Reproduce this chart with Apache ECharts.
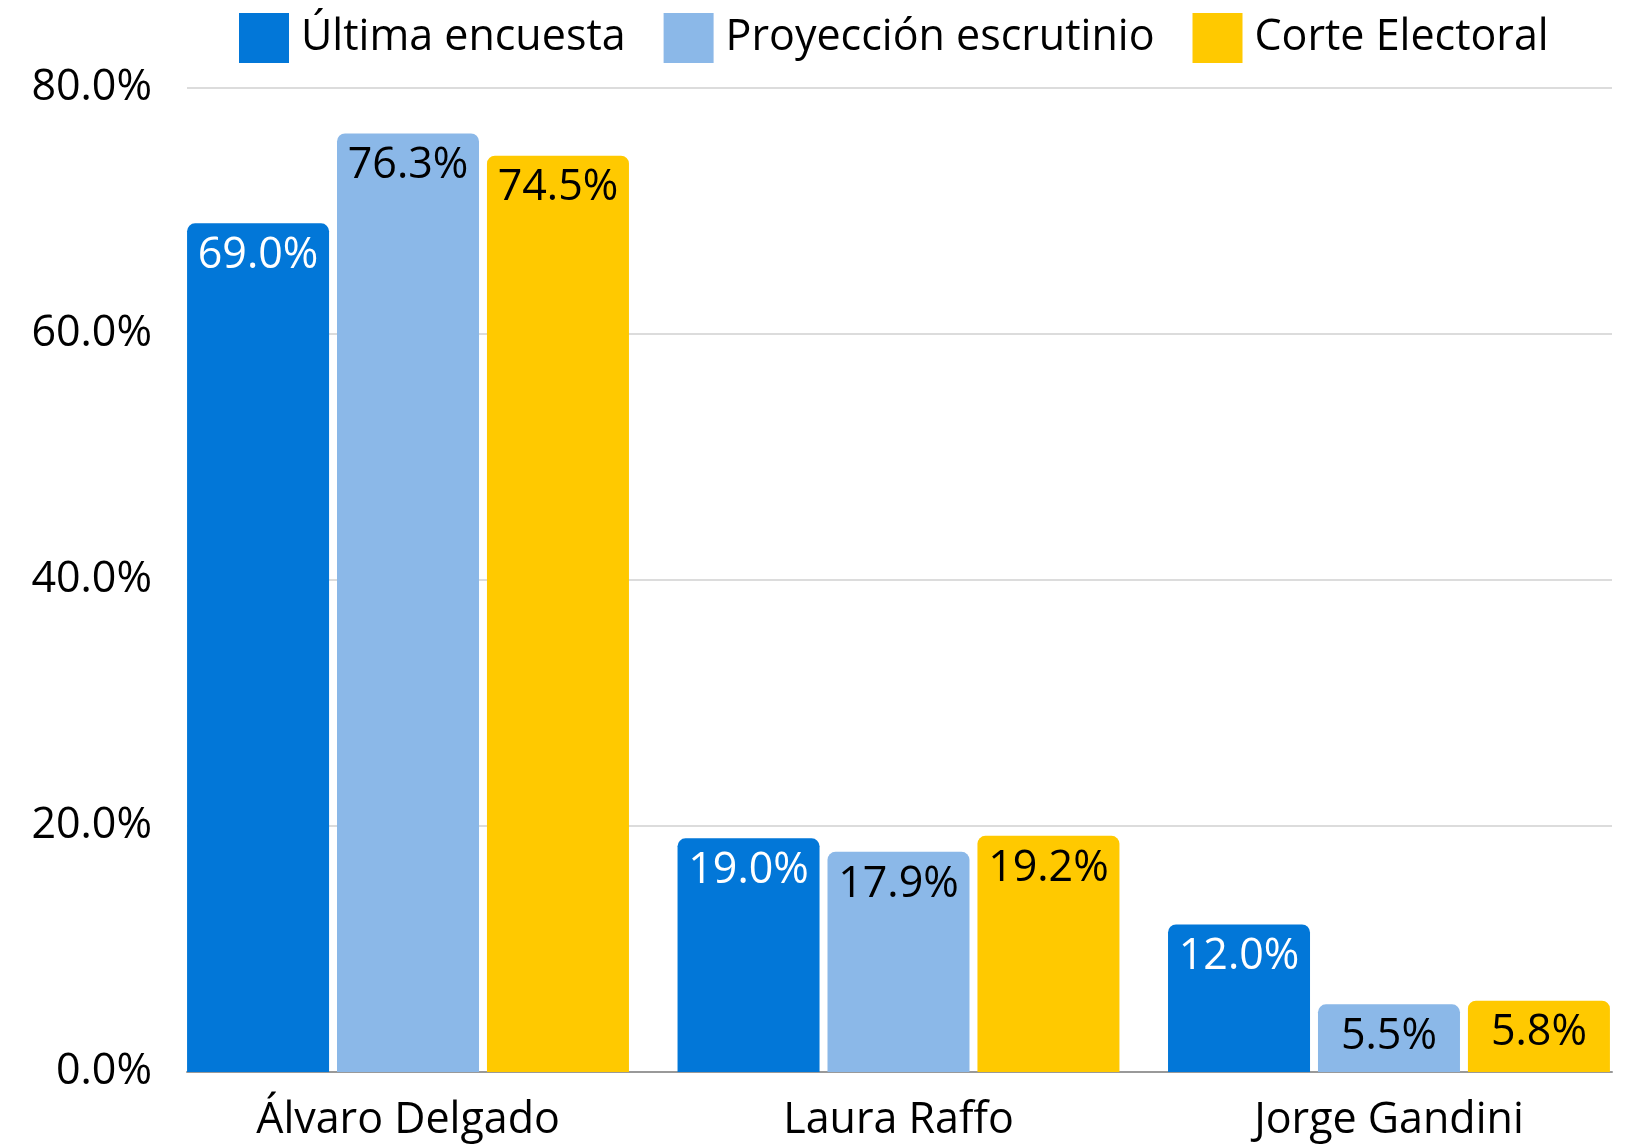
<!DOCTYPE html>
<html>
<head>
<meta charset="utf-8">
<script src="https://cdn.jsdelivr.net/npm/echarts@6/dist/echarts.min.js"></script>
<style>
  html, body { margin: 0; padding: 0; background: #fff; }
  #chart { width: 1629px; height: 1145px; }
</style>
</head>
<body>
<div id="chart"></div>
<script>
// Données du graphique
const categories = ['Álvaro Delgado', 'Laura Raffo', 'Jorge Gandini'];
const seriesNames = ['Última encuesta', 'Proyección escrutinio', 'Corte Electoral'];
const ultimaEncuesta = [69.0, 19.0, 12.0];
const proyeccion = [76.3, 17.9, 5.5];
const corteElectoral = [74.5, 19.2, 5.8];
const yTicks = [0, 20, 40, 60, 80];

const colors = ['#0277d8', '#8bb8e8', '#ffc900'];
const labelColors = ['#ffffff', '#000000', '#000000'];
const font = '"Open Sans", "Noto Sans", sans-serif';

const chart = echarts.init(document.getElementById('chart'));

const pct = v => v.toFixed(1) + '%';

function barSeries(i, data) {
    return {
        name: seriesNames[i],
        type: 'bar',
        // x = index de la catégorie
        data: data.map((v, k) => [k, v]),
        barWidth: 142,
        barGap: '5.6%',
        itemStyle: { color: colors[i], borderRadius: [8, 8, 0, 0] },
        label: {
            show: true,
            position: 'insideTop',
            distance: 11,
            color: labelColors[i],
            fontFamily: font,
            fontSize: 43,
            formatter: p => pct(p.value[1])
        }
    };
}

const options = {
    animation: false,
    legend: {
        top: 8,
        left: 234,
        itemWidth: 50,
        itemHeight: 50,
        itemGap: 38,
        icon: 'rect',
        textStyle: { fontFamily: font, fontSize: 43, color: '#000', padding: [4, 0, 0, 7] },
        data: seriesNames
    },
    grid: { left: 187, right: 17, top: 88, bottom: 73 },
    xAxis: {
        // axe numérique pour placer les groupes comme dans l'original
        type: 'value',
        min: -0.4506,
        max: 2.4547,
        splitLine: { show: false },
        axisLine: { show: true, lineStyle: { color: '#999', width: 2 } },
        axisTick: { show: false },
        axisLabel: {
            customValues: [0, 1, 2],
            margin: 27,
            color: '#000',
            fontFamily: font,
            fontSize: 43,
            formatter: v => categories[Math.round(v)]
        }
    },
    yAxis: {
        type: 'value',
        min: yTicks[0],
        max: yTicks[yTicks.length - 1],
        interval: 20,
        axisLine: { show: false },
        axisTick: { show: false },
        splitLine: { lineStyle: { color: '#d0d0d0', width: 1.5 } },
        axisLabel: {
            margin: 35,
            color: '#000',
            fontFamily: font,
            fontSize: 43,
            formatter: v => pct(v)
        }
    },
    series: [
        barSeries(0, ultimaEncuesta),
        barSeries(1, proyeccion),
        barSeries(2, corteElectoral)
    ]
};

chart.setOption(options);

window.addEventListener('resize', () => {
    chart.resize();
});
</script>
</body>
</html>
